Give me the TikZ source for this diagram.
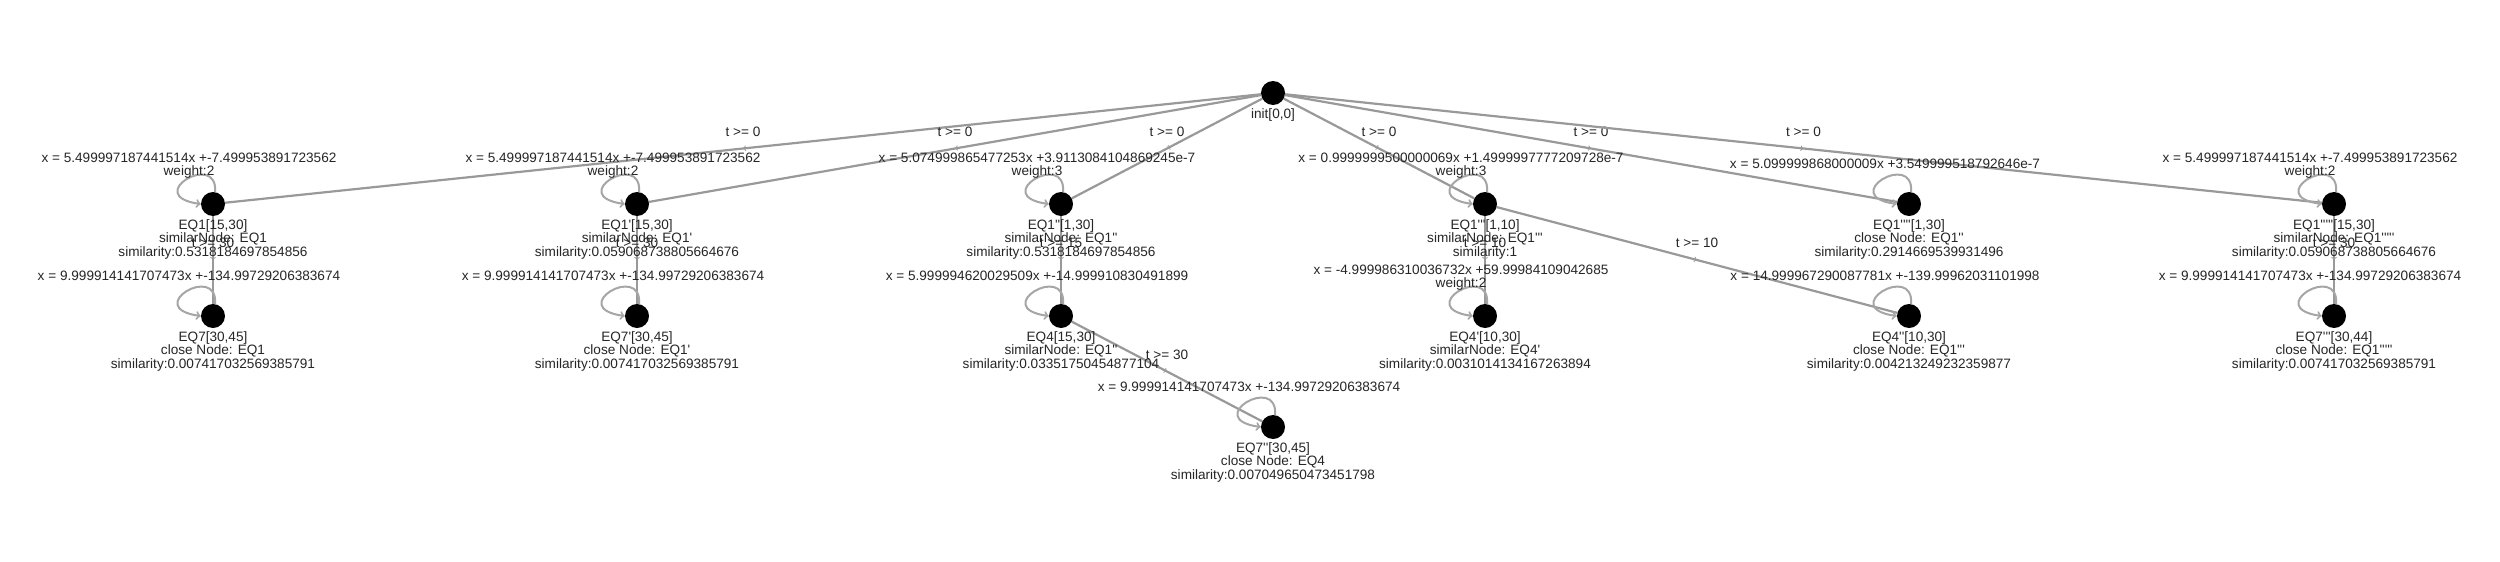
\documentclass[tikz,border=0pt]{standalone}
\usepackage{fontspec}
\setmainfont{Liberation Sans}[Ligatures=TeXOff]
\usetikzlibrary{arrows,backgrounds,decorations.markings}

\tikzset{
	loc/.style={circle, fill=black, minimum size=24pt, inner sep=0pt},
	info/.style={anchor=north, align=center, inner sep=0pt, text=black!85, font=\fontsize{13.6}{13.7}\selectfont},
	rule/.style={anchor=north, align=center, inner sep=0pt, text=black!85, font=\fontsize{13.6}{13}\selectfont},
	guard/.style={inner sep=0pt, yshift=17pt, text=black!85, font=\fontsize{13.6}{13.7}\selectfont},
	link/.style={draw=black!40, line width=2.2pt, postaction={decorate},
		decoration={markings, mark=at position 0.5 with {\arrow[line width=1pt]{to}}}},
	selfloop/.style={draw=black!35, line width=2pt, ->},
}

\begin{document}
\begin{tikzpicture}[x=1pt, y=-1pt]
			% locations
			\node[loc] (init) at (1273,93) {};
			\node[loc] (eq1) at (213,204) {};
			\node[loc] (eq1p) at (637,204) {};
			\node[loc] (eq1pp) at (1061,204) {};
			\node[loc] (eq1ppp) at (1485,204) {};
			\node[loc] (eq1pppp) at (1909,204) {};
			\node[loc] (eq1ppppp) at (2334,204) {};
			\node[loc] (eq7) at (213,316) {};
			\node[loc] (eq7p) at (637,316) {};
			\node[loc] (eq4) at (1061,316) {};
			\node[loc] (eq4p) at (1485,316) {};
			\node[loc] (eq4pp) at (1909,316) {};
			\node[loc] (eq7ppp) at (2334,316) {};
			\node[loc] (eq7pp) at (1273,427) {};
			% names below the locations
			\node[info] (init-info) at (1273,108) {init[0,0]};
			\node[info] (eq1-info) at (213,219) {EQ1[15,30]\\similarNode: EQ1\\similarity:0.5318184697854856};
			\node[info] (eq1p-info) at (637,219) {EQ1'[15,30]\\similarNode: EQ1'\\similarity:0.059068738805664676};
			\node[info] (eq1pp-info) at (1061,219) {EQ1''[1,30]\\similarNode: EQ1''\\similarity:0.5318184697854856};
			\node[info] (eq1ppp-info) at (1485,219) {EQ1'''[1,10]\\similarNode: EQ1'''\\similarity:1};
			\node[info] (eq1pppp-info) at (1909,219) {EQ1''''[1,30]\\close Node: EQ1''\\similarity:0.2914669539931496};
			\node[info] (eq1ppppp-info) at (2334,219) {EQ1'''''[15,30]\\similarNode: EQ1'''''\\similarity:0.059068738805664676};
			\node[info] (eq7-info) at (213,331) {EQ7[30,45]\\close Node: EQ1\\similarity:0.007417032569385791};
			\node[info] (eq7p-info) at (637,331) {EQ7'[30,45]\\close Node: EQ1'\\similarity:0.007417032569385791};
			\node[info] (eq4-info) at (1061,331) {EQ4[15,30]\\similarNode: EQ1''\\similarity:0.03351750454877104};
			\node[info] (eq4p-info) at (1485,331) {EQ4'[10,30]\\similarNode: EQ4'\\similarity:0.0031014134167263894};
			\node[info] (eq4pp-info) at (1909,331) {EQ4''[10,30]\\close Node: EQ1'''\\similarity:0.004213249232359877};
			\node[info] (eq7ppp-info) at (2334,331) {EQ7'''[30,44]\\close Node: EQ1'''''\\similarity:0.007417032569385791};
			\node[info] (eq7pp-info) at (1273,442) {EQ7''[30,45]\\close Node: EQ4\\similarity:0.007049650473451798};
			% flow rules above the self loops
			\node[rule] (eq1-rule) at (189,153) {x = 5.499997187441514x +-7.499953891723562\\weight:2};
			\node[rule] (eq1p-rule) at (613,153) {x = 5.499997187441514x +-7.499953891723562\\weight:2};
			\node[rule] (eq1pp-rule) at (1037,153) {x = 5.074999865477253x +3.9113084104869245e-7\\weight:3};
			\node[rule] (eq1ppp-rule) at (1461,153) {x = 0.9999999500000069x +1.4999997777209728e-7\\weight:3};
			\node[rule] (eq1pppp-rule) at (1885,159) {x = 5.099999868000009x +3.549999518792646e-7};
			\node[rule] (eq1ppppp-rule) at (2310,153) {x = 5.499997187441514x +-7.499953891723562\\weight:2};
			\node[rule] (eq7-rule) at (189,271) {x = 9.999914141707473x +-134.99729206383674};
			\node[rule] (eq7p-rule) at (613,271) {x = 9.999914141707473x +-134.99729206383674};
			\node[rule] (eq4-rule) at (1037,271) {x = 5.999994620029509x +-14.999910830491899};
			\node[rule] (eq4p-rule) at (1461,265) {x = -4.999986310036732x +59.99984109042685\\weight:2};
			\node[rule] (eq4pp-rule) at (1885,271) {x = 14.999967290087781x +-139.99962031101998};
			\node[rule] (eq7ppp-rule) at (2310,271) {x = 9.999914141707473x +-134.99729206383674};
			\node[rule] (eq7pp-rule) at (1249,382) {x = 9.999914141707473x +-134.99729206383674};
			\begin{scope}[on background layer]
			\fill[white] (0,0) rectangle (2500,562);
			% transitions
			\draw[link] (init) -- node[guard] (g1) {t >= 0} (eq1);
			\draw[link] (init) -- node[guard] (g2) {t >= 0} (eq1p);
			\draw[link] (init) -- node[guard] (g3) {t >= 0} (eq1pp);
			\draw[link] (init) -- node[guard] (g4) {t >= 0} (eq1ppp);
			\draw[link] (init) -- node[guard] (g5) {t >= 0} (eq1pppp);
			\draw[link] (init) -- node[guard] (g6) {t >= 0} (eq1ppppp);
			\draw[link] (eq1) -- node[guard] (g7) {t >= 30} (eq7);
			\draw[link] (eq1p) -- node[guard] (g8) {t >= 30} (eq7p);
			\draw[link] (eq1pp) -- node[guard] (g9) {t >= 15} (eq4);
			\draw[link] (eq4) -- node[guard] (g10) {t >= 30} (eq7pp);
			\draw[link] (eq1ppp) -- node[guard] (g11) {t >= 10} (eq4p);
			\draw[link] (eq1ppp) -- node[guard] (g12) {t >= 10} (eq4pp);
			\draw[link] (eq1ppppp) -- node[guard] (g13) {t >= 30} (eq7ppp);
			% self loops
			\draw[selfloop] (eq1.80) .. controls +(3,-42) and +(-60,-8) .. (eq1.180);
			\draw[selfloop] (eq1p.80) .. controls +(3,-42) and +(-60,-8) .. (eq1p.180);
			\draw[selfloop] (eq1pp.80) .. controls +(3,-42) and +(-60,-8) .. (eq1pp.180);
			\draw[selfloop] (eq1ppp.80) .. controls +(3,-42) and +(-60,-8) .. (eq1ppp.180);
			\draw[selfloop] (eq1pppp.80) .. controls +(3,-42) and +(-60,-8) .. (eq1pppp.180);
			\draw[selfloop] (eq1ppppp.80) .. controls +(3,-42) and +(-60,-8) .. (eq1ppppp.180);
			\draw[selfloop] (eq7.80) .. controls +(3,-42) and +(-60,-8) .. (eq7.180);
			\draw[selfloop] (eq7p.80) .. controls +(3,-42) and +(-60,-8) .. (eq7p.180);
			\draw[selfloop] (eq4.80) .. controls +(3,-42) and +(-60,-8) .. (eq4.180);
			\draw[selfloop] (eq4p.80) .. controls +(3,-42) and +(-60,-8) .. (eq4p.180);
			\draw[selfloop] (eq4pp.80) .. controls +(3,-42) and +(-60,-8) .. (eq4pp.180);
			\draw[selfloop] (eq7ppp.80) .. controls +(3,-42) and +(-60,-8) .. (eq7ppp.180);
			\draw[selfloop] (eq7pp.80) .. controls +(3,-42) and +(-60,-8) .. (eq7pp.180);
			\end{scope}
\end{tikzpicture}
\end{document}
